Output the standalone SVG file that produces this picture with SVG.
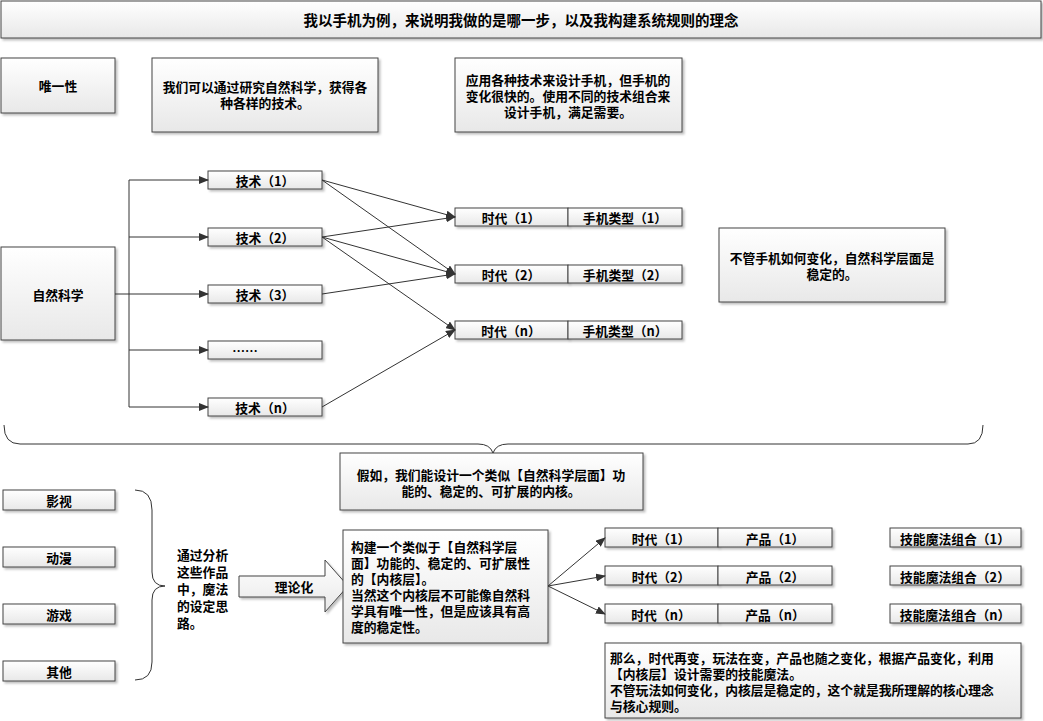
<svg xmlns="http://www.w3.org/2000/svg" width="1043" height="721" viewBox="0 0 1043 721">
<style>
.b{fill:url(#g);stroke:#444;stroke-width:1;filter:url(#s)}
text{font-family:"Noto Sans CJK SC","Liberation Sans",sans-serif;font-size:12.8px;font-weight:bold;fill:#000;text-anchor:middle;dominant-baseline:central}
.l{text-anchor:start}
.c{fill:none;stroke:#333;stroke-width:1}
</style>
<defs>
<linearGradient id="g" x1="0" y1="0" x2="0" y2="1"><stop offset="0" stop-color="#fff"/><stop offset="1" stop-color="#e8e8e8"/></linearGradient>
<filter id="s" x="-5%" y="-5%" width="115%" height="130%"><feDropShadow dx="2" dy="2" stdDeviation="1" flood-color="#000" flood-opacity="0.25"/></filter>
<marker id="a" markerWidth="10" markerHeight="8" refX="9" refY="4" orient="auto" markerUnits="userSpaceOnUse"><path d="M0,0 L10,4 L0,8 Z" fill="#333"/></marker>
</defs>
<rect width="1043" height="721" fill="#fff"/>
<g id="title"><rect class="b" x="1" y="1" width="1040" height="37"/><text x="521" y="19" style="font-size:14.5px">我以手机为例，来说明我做的是哪一步，以及我构建系统规则的理念</text></g>
<g id="n1"><rect class="b" x="1" y="58" width="114" height="55"/><text x="58" y="85">唯一性</text></g>
<g id="n2"><rect class="b" x="152" y="58" width="226" height="74"/><text x="265" y="86">我们可以通过研究自然科学，获得各</text><text x="265" y="102">种各样的技术。</text></g>
<g id="n3"><rect class="b" x="455" y="58" width="227" height="74"/><text x="568" y="79">应用各种技术来设计手机，但手机的</text><text x="568" y="95">变化很快的。使用不同的技术组合来</text><text x="568" y="111">设计手机，满足需要。</text></g>
<g id="ns"><rect class="b" x="1" y="247" width="114" height="93"/><text x="58" y="294">自然科学</text></g>
<g id="t1"><rect class="b" x="208" y="171" width="114" height="18"/><text x="265" y="180">技术（1）</text></g>
<g id="t2"><rect class="b" x="208" y="228" width="114" height="18"/><text x="265" y="237">技术（2）</text></g>
<g id="t3"><rect class="b" x="208" y="285" width="114" height="18"/><text x="265" y="294">技术（3）</text></g>
<g id="t4"><rect class="b" x="208" y="341" width="114" height="18"/><text x="245" y="350">……</text></g>
<g id="t5"><rect class="b" x="208" y="398" width="114" height="18"/><text x="265" y="407">技术（n）</text></g>
<g id="e1"><rect class="b" x="455" y="208" width="113" height="18"/><text x="511" y="217">时代（1）</text><rect class="b" x="568" y="208" width="114" height="18"/><text x="625" y="217">手机类型（1）</text></g>
<g id="e2"><rect class="b" x="455" y="265" width="113" height="18"/><text x="511" y="274">时代（2）</text><rect class="b" x="568" y="265" width="114" height="18"/><text x="625" y="274">手机类型（2）</text></g>
<g id="e3"><rect class="b" x="455" y="321" width="113" height="18"/><text x="511" y="330">时代（n）</text><rect class="b" x="568" y="321" width="114" height="18"/><text x="625" y="330">手机类型（n）</text></g>
<g id="nr"><rect class="b" x="719" y="228" width="226" height="74"/><text x="832" y="257">不管手机如何变化，自然科学层面是</text><text x="832" y="273">稳定的。</text></g>
<g id="nj"><rect class="b" x="340" y="453" width="303" height="57"/><text x="491" y="474">假如，我们能设计一个类似【自然科学层面】功</text><text x="491" y="490">能的、稳定的、可扩展的内核。</text></g>
<g id="m1"><rect class="b" x="3" y="490" width="112" height="20"/><text x="59" y="500">影视</text></g>
<g id="m2"><rect class="b" x="3" y="547" width="112" height="20"/><text x="59" y="557">动漫</text></g>
<g id="m3"><rect class="b" x="3" y="604" width="112" height="20"/><text x="59" y="614">游戏</text></g>
<g id="m4"><rect class="b" x="3" y="661" width="112" height="20"/><text x="59" y="671">其他</text></g>
<g id="tx"><text class="l" x="177" y="554">通过分析</text><text class="l" x="177" y="571">这些作品</text><text class="l" x="177" y="588">中，魔法</text><text class="l" x="177" y="605">的设定思</text><text class="l" x="177" y="622">路。</text></g>
<g id="th"><path class="b" d="M239,576 H325 V560 L348,586 L325,612 V597 H239 Z"/><text x="294" y="586">理论化</text></g>
<g id="core"><rect class="b" x="343" y="530" width="205" height="113"/>
<text class="l" x="351" y="546">构建一个类似于【自然科学层</text><text class="l" x="351" y="562">面】功能的、稳定的、可扩展性</text><text class="l" x="351" y="578">的【内核层】。</text><text class="l" x="351" y="594">当然这个内核层不可能像自然科</text><text class="l" x="351" y="610">学具有唯一性，但是应该具有高</text><text class="l" x="351" y="626">度的稳定性。</text></g>
<g id="p1"><rect class="b" x="605" y="528" width="113" height="19"/><text x="661" y="538">时代（1）</text><rect class="b" x="718" y="528" width="114" height="19"/><text x="775" y="538">产品（1）</text></g>
<g id="p2"><rect class="b" x="605" y="566" width="113" height="19"/><text x="661" y="576">时代（2）</text><rect class="b" x="718" y="566" width="114" height="19"/><text x="775" y="576">产品（2）</text></g>
<g id="p3"><rect class="b" x="605" y="604" width="113" height="19"/><text x="661" y="614">时代（n）</text><rect class="b" x="718" y="604" width="114" height="19"/><text x="775" y="614">产品（n）</text></g>
<g id="k1"><rect class="b" x="890" y="528" width="131" height="19"/><text x="955" y="538">技能魔法组合（1）</text></g>
<g id="k2"><rect class="b" x="890" y="566" width="131" height="19"/><text x="955" y="576">技能魔法组合（2）</text></g>
<g id="k3"><rect class="b" x="890" y="604" width="131" height="19"/><text x="955" y="614">技能魔法组合（n）</text></g>
<g id="nb"><rect class="b" x="605" y="643" width="416" height="75"/>
<text class="l" x="610" y="657">那么，时代再变，玩法在变，产品也随之变化，根据产品变化，利用</text><text class="l" x="610" y="673">【内核层】设计需要的技能魔法。</text><text class="l" x="610" y="689">不管玩法如何变化，内核层是稳定的，这个就是我所理解的核心理念</text><text class="l" x="610" y="705">与核心规则。</text></g>
<g id="connectors">
<path class="c" d="M115,294 H129 M129,180 V407"/>
<path class="c" marker-end="url(#a)" d="M129,180 H208"/><path class="c" marker-end="url(#a)" d="M129,237 H208"/><path class="c" marker-end="url(#a)" d="M129,294 H208"/><path class="c" marker-end="url(#a)" d="M129,350 H208"/><path class="c" marker-end="url(#a)" d="M129,407 H208"/>
<path class="c" marker-end="url(#a)" d="M322,180 L455,217"/><path class="c" marker-end="url(#a)" d="M322,180 L455,274"/>
<path class="c" marker-end="url(#a)" d="M322,237 L455,217"/><path class="c" marker-end="url(#a)" d="M322,237 L455,274"/><path class="c" marker-end="url(#a)" d="M322,237 L455,330"/>
<path class="c" marker-end="url(#a)" d="M322,294 L455,274"/><path class="c" marker-end="url(#a)" d="M322,407 L455,330"/>
<path class="c" d="M4,425 Q4,444 20,444 H478 Q490,444 493,453 Q496,444 508,444 H968 Q983,444 983,425"/>
<path class="c" d="M135,490 Q152,490 152,510 V572 Q152,586 165,586 Q152,586 152,600 V662 Q152,680 135,680"/>
<path class="c" marker-end="url(#a)" d="M548,586 L605,538"/><path class="c" marker-end="url(#a)" d="M548,586 L605,576"/><path class="c" marker-end="url(#a)" d="M548,586 L605,614"/>
</g>
</svg>
